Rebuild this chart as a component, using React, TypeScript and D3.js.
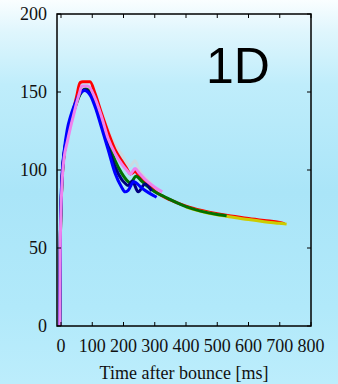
import React from 'react';
import * as d3 from 'd3';

// time after bounce [ms] and value per model run

const grayT = [-4, -3, -2, 0, 3, 6, 10, 20, 30, 40, 50, 60, 70, 85, 100, 115, 130, 151, 173, 194, 211, 222, 237, 250, 270, 290];
const grayV = [0, 30, 55, 75, 92, 102, 110, 119, 128, 136, 143, 149, 152.5, 153.5, 150, 144, 137, 125, 116, 110, 104.5, 102.5, 106, 100, 95, 91];

const redT = [-4, -3, -2, 0, 3, 6, 10, 20, 30, 40, 50, 61, 70, 93, 109, 130, 151, 173, 194, 210, 222, 237, 250, 269, 300, 350, 400, 450, 500, 550, 600, 650, 700, 715];
const redV = [0, 30, 55, 75, 92, 102, 110, 122, 131, 139, 147, 156, 156.5, 156.5, 149, 136, 124, 113, 106, 101, 97.5, 99, 96, 92.5, 86.5, 80.8, 76.8, 74, 71.9, 70.4, 68.9, 67.6, 66.4, 65.6];

const yellowT = [400, 450, 500, 550, 600, 650, 700, 722];
const yellowV = [76.2, 73.4, 71.3, 69.7, 68.2, 66.9, 65.8, 65.3];

const greenT = [-4, -3, -2, 0, 3, 6, 10, 20, 30, 40, 50, 60, 78, 95, 110, 130, 151, 173, 194, 215, 222, 240, 260, 280, 300, 330, 360, 400, 450, 500, 530];
const greenV = [0, 30, 55, 75, 92, 102, 110, 121, 130, 137, 143, 148, 152, 150, 143, 131, 118, 106, 98, 92.5, 91.5, 96, 92.5, 89, 86, 83, 80, 76.5, 73.5, 71.5, 70.6];

const navyT = [-4, -3, -2, 0, 3, 6, 10, 20, 30, 40, 50, 60, 77, 95, 109, 130, 151, 173, 194, 205, 215, 228, 247, 269, 290];
const navyV = [0, 30, 55, 76, 93, 103, 111, 122, 131, 138, 144, 148.5, 151.5, 148.5, 142.7, 130, 115, 102, 94, 91.5, 90, 93, 86, 91, 86.5];

const blueT = [-4, -3, -2, 0, 3, 6, 10, 20, 30, 40, 50, 60, 75, 95, 110, 130, 151, 173, 194, 205, 215, 233, 258, 280, 306];
const blueV = [0, 35, 60, 80, 95, 104, 112, 126, 134, 140, 145, 149, 151, 147.5, 140, 127, 113, 98, 89, 86, 87, 92.5, 88.5, 85.5, 82.5];

const pinkT = [-4, -3, -2, 0, 3, 6, 10, 20, 30, 40, 50, 60, 66, 86, 109, 130, 151, 173, 194, 210, 222, 237, 250, 269, 300, 324];
const pinkV = [0, 30, 55, 74, 90, 100, 108, 118, 127, 135, 143, 150, 153.8, 153.8, 146, 134, 120, 110.5, 104, 100, 97.5, 101, 98, 94, 89, 86];

const xTicks = [0, 100, 200, 300, 400, 500, 600, 700, 800];
const yTicks = [0, 50, 100, 150, 200];

const series = [
  { name: 'gray', color: '#c9dbe2', t: grayT, v: grayV },
  { name: 'red', color: '#ff0000', t: redT, v: redV },
  { name: 'yellow', color: '#cccc00', t: yellowT, v: yellowV },
  { name: 'green', color: '#007000', t: greenT, v: greenV },
  { name: 'navy', color: '#000080', t: navyT, v: navyV },
  { name: 'blue', color: '#0000ff', t: blueT, v: blueV },
  { name: 'pink', color: '#ee82ee', t: pinkT, v: pinkV },
];

const W = 338;
const H = 384;
const left = 57, right = 311, top = 14, bottom = 326;

export default function App() {
  const x = d3.scaleLinear().domain([-12.8, 800]).range([left, right]);
  const y = d3.scaleLinear().domain([0, 200]).range([bottom, top]);

  const line = d3.line<[number, number]>()
    .x(d => x(d[0]))
    .y(d => y(d[1]))
    .curve(d3.curveMonotoneX);

  return (
    <div style={{ position: 'fixed', left: 0, top: 0 }}>
      <svg width={W} height={H} style={{ display: 'block' }}>
        <defs>
          <linearGradient id="bg" x1="0" y1="0" x2="0" y2="1">
            <stop offset="0" stopColor="#fafeff" />
            <stop offset="0.08" stopColor="#e0f6fd" />
            <stop offset="0.22" stopColor="#bfedfb" />
            <stop offset="0.5" stopColor="#aae5f8" />
            <stop offset="0.8" stopColor="#b1e9fa" />
            <stop offset="1" stopColor="#bcedfc" />
          </linearGradient>
          <clipPath id="plot">
            <rect x={left} y={top} width={right - left} height={bottom - top} />
          </clipPath>
        </defs>
        <rect width={W} height={H} fill="url(#bg)" />

        <g clipPath="url(#plot)">
          {series.map(s => (
            <path
              key={s.name}
              d={line(s.t.map((t, i) => [t, s.v[i]] as [number, number])) || ''}
              fill="none"
              stroke={s.color}
              strokeWidth={3}
              strokeLinejoin="round"
            />
          ))}
        </g>

        {/* frame and inward ticks */}
        <rect x={left} y={top} width={right - left} height={bottom - top} fill="none" stroke="#000" strokeWidth={1.5} />
        {xTicks.map(t => (
          <g key={'xt' + t}>
            <line x1={x(t)} x2={x(t)} y1={bottom} y2={bottom - 4} stroke="#000" strokeWidth={1} />
            <line x1={x(t)} x2={x(t)} y1={top} y2={top + 4} stroke="#000" strokeWidth={1} />
          </g>
        ))}
        {yTicks.map(v => (
          <g key={'yt' + v}>
            <line x1={left} x2={left + 4} y1={y(v)} y2={y(v)} stroke="#000" strokeWidth={1} />
            <line x1={right} x2={right - 4} y1={y(v)} y2={y(v)} stroke="#000" strokeWidth={1} />
          </g>
        ))}

        <g fontFamily="Liberation Serif, DejaVu Serif, serif" fontSize={18} fill="#111">
          {xTicks.map(t => (
            <text key={'xl' + t} x={x(t)} y={352} textAnchor="middle">{t}</text>
          ))}
          {yTicks.map(v => (
            <text key={'yl' + v} x={47} y={y(v) + 6} textAnchor="end">{v}</text>
          ))}
          <text x={184} y={379} textAnchor="middle">Time after bounce [ms]</text>
        </g>
        <text x={206} y={83} fontFamily="Liberation Sans, Arial, sans-serif" fontSize={50} fill="#000">1D</text>
      </svg>
    </div>
  );
}
